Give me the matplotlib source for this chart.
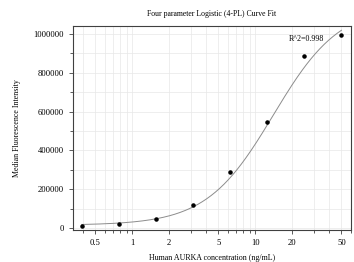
import matplotlib.pyplot as plt
import numpy as np
from matplotlib.ticker import FuncFormatter

plt.rcParams['font.family'] = ['Liberation Serif', 'DejaVu Serif']

# measured standards
conc = [0.39, 0.78, 1.5625, 3.125, 6.25, 12.5, 25, 50]
mfi = [12000, 22000, 45000, 120000, 290000, 545000, 885000, 995000]

# 4PL fit parameters (bottom, top, ec50, hill)
bottom, top, ec50, hill = 15000, 1150000, 14.0, 1.6
r2_label = "R^2=0.998"

xs = np.logspace(np.log10(0.39), np.log10(50), 300)
ys = top + (bottom - top) / (1 + (xs / ec50) ** hill)

fig = plt.figure(figsize=(3.54, 2.62), dpi=100)
ax = fig.add_axes([0.206, 0.122, 0.786, 0.778])

ax.plot(xs, ys, color="#8c8c8c", lw=0.7, zorder=2)
ax.scatter(conc, mfi, s=5, c="k", zorder=3)

ax.set_xscale("log")
ax.set_xlim(0.33, 60)
ax.set_ylim(-10000, 1040000)
ax.set_xticks([0.5, 1, 2, 5, 10, 20, 50])
ax.set_xticklabels(["0.5", "1", "2", "5", "10", "20", "50"])
ax.set_yticks(np.arange(0, 1000001, 200000))
ax.set_yticks(np.arange(100000, 1000000, 200000), minor=True)
ax.yaxis.set_major_formatter(FuncFormatter(lambda v, p: f"{v:.0f}"))

ax.grid(True, which="both", color="#e8e8e8", lw=0.5, zorder=0)
ax.set_axisbelow(True)
for s in ax.spines.values():
    s.set_color("#404040")
    s.set_linewidth(0.8)
ax.tick_params(which="both", labelsize=6.2, width=0.6, color="#404040", direction="out")
ax.tick_params(which="major", length=3)
ax.tick_params(which="minor", length=2)

ax.set_title("Four parameter Logistic (4-PL) Curve Fit", fontsize=5.6, pad=7)
ax.set_xlabel("Human AURKA concentration (ng/mL)", fontsize=5.7, labelpad=5)
ax.set_ylabel("Median Fluorescence Intensity", fontsize=5.7, labelpad=9)
ax.text(0.84, 0.935, r2_label, transform=ax.transAxes, fontsize=5.8,
        ha="center", va="center")

fig.savefig("out.png", dpi=100)
